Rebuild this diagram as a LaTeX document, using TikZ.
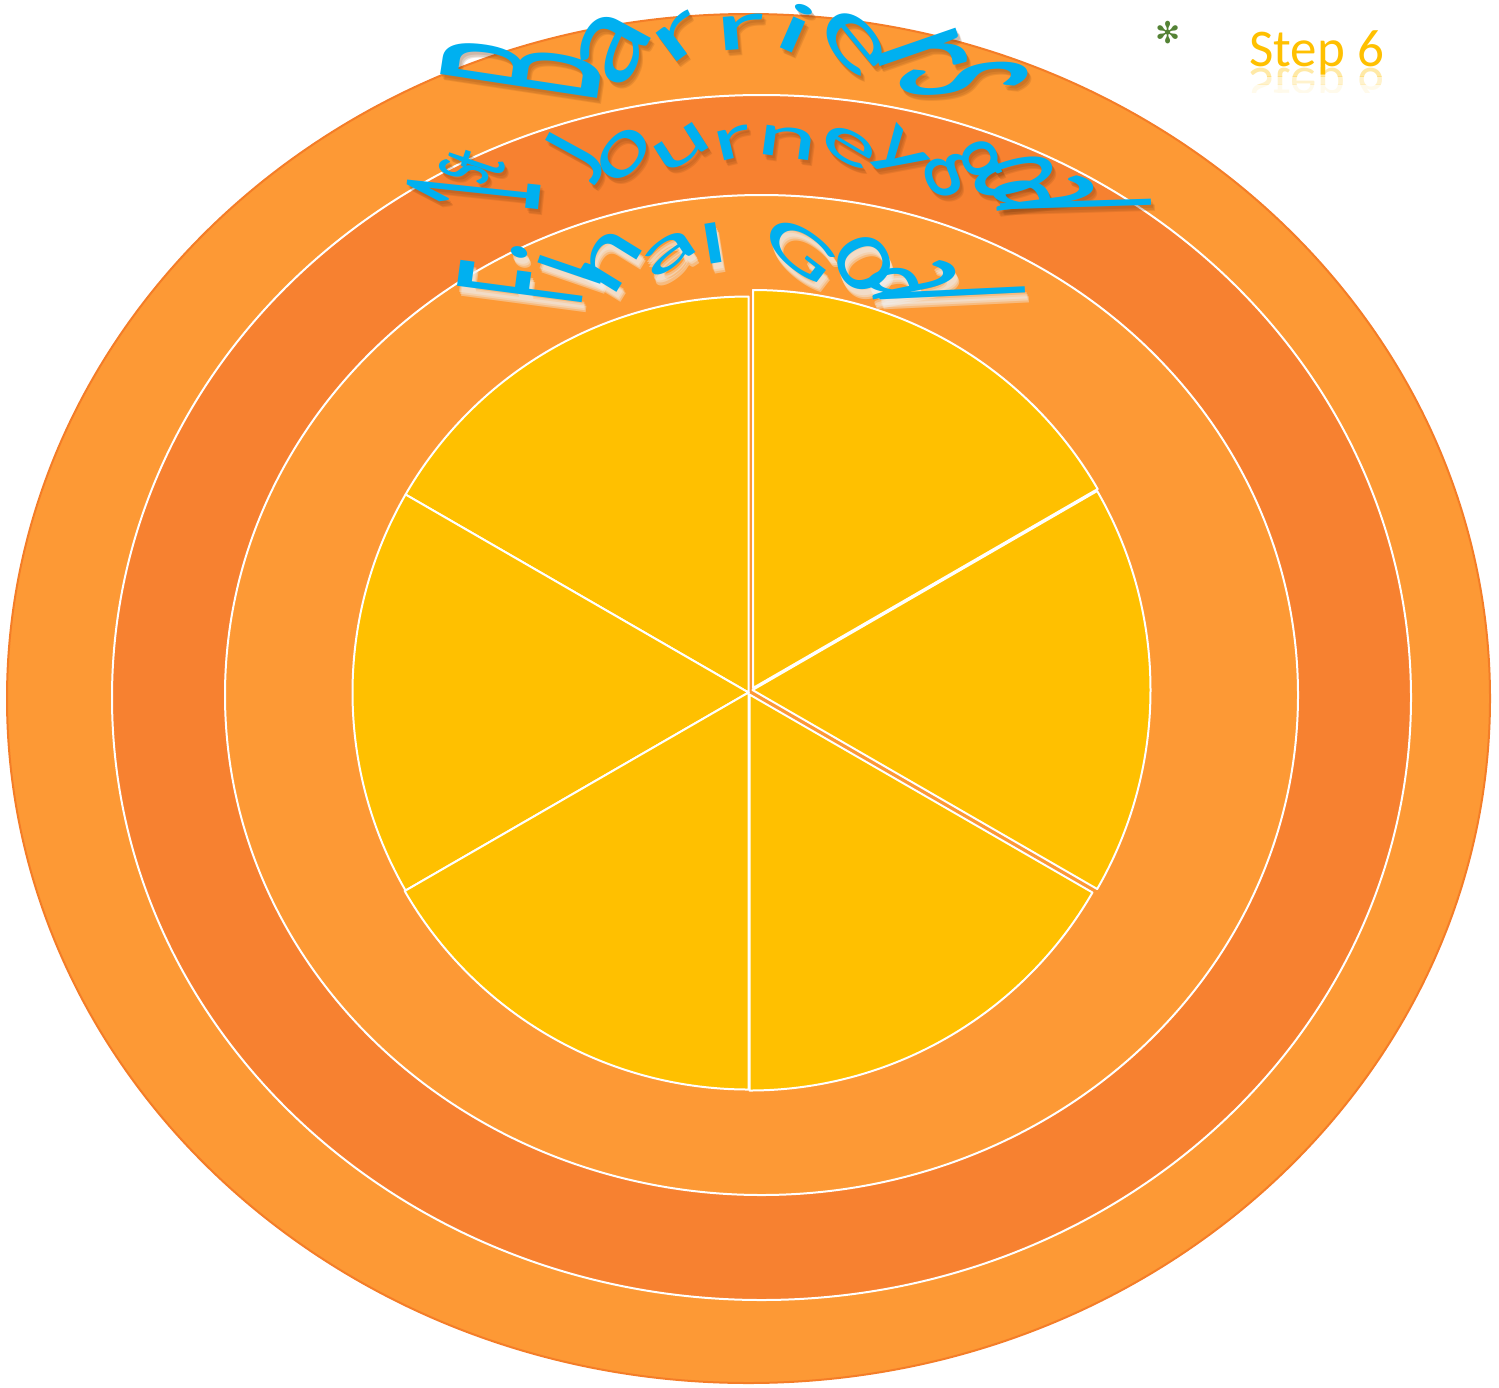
\documentclass[tikz,border=0pt]{standalone}
\usepackage{fontspec}
\setmainfont{Carlito}
\newfontfamily\arcf{Carlito}
\newfontfamily\djv{DejaVu Sans}
\definecolor{lightor}{RGB}{253,153,53}
\definecolor{darkor}{RGB}{247,129,48}
\definecolor{edgeor}{RGB}{244,125,40}
\definecolor{gold}{RGB}{255,192,0}
\definecolor{wacyan}{RGB}{0,176,240}
\definecolor{bulletgreen}{RGB}{84,130,53}
\definecolor{shbrown}{RGB}{120,60,15}
\definecolor{glow}{RGB}{240,240,240}

\def\ArchSetup#1#2#3#4#5#6#7#8#9{\def\Acx{#1}\def\Acy{#2}\def\Arxb{#3}\def\Aryb{#4}\def\Akx{#5}\def\Aky{#6}\def\Atha{#7}\def\Athb{#8}\def\Ap{#9}}
\def\Akr{1.8}
\def\Almin{85}
\def\Almax{150}
\newcommand\ArchMeasure[1]{%
  \xdef\ArchW{0}%
  \foreach \ch/\lw/\lsc/\lrs in #1{%
    \pgfmathsetmacro\Atmp{\ArchW+\lsc*\lw}%
    \xdef\ArchW{\Atmp}%
  }}
\newcommand\ArchPass[5]{%
  \xdef\ArchU{0}%
  \foreach \ch/\lw/\lsc/\lrs [count=\ci] in #2{%
    \pgfmathsetmacro\Aw{\lsc*\lw}%
    \pgfmathsetmacro\Auc{\ArchU+\Aw/2}%
    \pgfmathsetmacro\Ath{\Atha-(\Atha-\Athb)*\Auc/\ArchW}%
    \pgfmathsetmacro\Avm{\lrs+0.3*\lsc}%
    \pgfmathsetmacro\Arxm{(\Arxb+\Akx*\Avm)/100}%
    \pgfmathsetmacro\Arym{(\Aryb+\Aky*\Avm)/100}%
    \pgfmathsetmacro\Apx{\Acx+(\Arxb+\Akx*\lrs)*cos(\Ath)+#4}%
    \pgfmathsetmacro\Apy{\Acy-(\Aryb+\Aky*\lrs)*sin(\Ath)+#5}%
    \pgfmathsetmacro\Adth{(\Atha-\Athb)*pi/180/\ArchW}%
    \pgfmathsetmacro\ALt{min(\Almax,max(\Almin,100*\Adth*sqrt((\Arxm*sin(\Ath))^2+(\Arym*cos(\Ath))^2)))}%
    \pgfmathsetmacro\ALr{\Aky+(\Akx-\Aky)*pow(abs(cos(\Ath)),\Ap)}%
    \pgfmathsetmacro\Anrm{sqrt((\Akr*cos(\Ath))^2+(sin(\Ath))^2)}%
    \pgfmathsetmacro\Aux{\Akr*cos(\Ath)/\Anrm}%
    \pgfmathsetmacro\Auy{sin(\Ath)/\Anrm}%
    \pgfmathsetmacro\Ma{0.05*\lsc*\ALt*\Auy}%
    \pgfmathsetmacro\Mb{-0.05*\lsc*\ALt*\Aux}%
    \pgfmathsetmacro\Mc{0.05*\lsc*\ALr*\Aux}%
    \pgfmathsetmacro\Md{0.05*\lsc*\ALr*\Auy}%
    \node[inner sep=0pt, outer sep=0pt, anchor=base, transform shape,
          cm={\Ma,\Mb,\Mc,\Md,(\Apx,\Apy)}, #3] (#1-\ci) at (0,0)
          {\fontsize{10}{12}\selectfont\arcf \ch};
    \pgfmathsetmacro\Atmp{\ArchU+\Aw}%
    \xdef\ArchU{\Atmp}%
  }}

\tikzset{
  ringline/.style={draw=white, line width=1pt},
  slice/.style={fill=gold, draw=white, line width=1pt, line join=round},
  darkshadow/.style={text=shbrown, opacity=0.14},
  glowshadow/.style={text=glow, opacity=0.4},
  arctext/.style={text=wacyan}
}

\begin{document}
\begin{tikzpicture}[x=0.5pt, y=-0.5pt]
\useasboundingbox (0,0) rectangle (1499,1387);
% rings
\draw[fill=lightor, draw=edgeor, line width=1pt] (748.5,698.5) ellipse [x radius=741.5, y radius=684.5];
\draw[fill=darkor, ringline] (761.5,697.5) ellipse [x radius=649.5, y radius=602.5];
\draw[fill=lightor, ringline] (761.5,695) ellipse [x radius=536.5, y radius=500];
% pie slices
\path[slice] (748.5,692.5) -- ++(-90:396) arc[start angle=-90, end angle=-150, radius=396] -- cycle;
\path[slice] (748.5,692.5) -- ++(-150:396) arc[start angle=-150, end angle=-210, radius=396] -- cycle;
\path[slice] (748.5,692.5) -- ++(-210:397) arc[start angle=-210, end angle=-270, radius=397] -- cycle;
\path[slice] (749.5,694.5) -- ++(-270:396) arc[start angle=-270, end angle=-330, radius=396] -- cycle;
\path[slice] (752.5,690) -- ++(-330:398) arc[start angle=-330, end angle=-390, radius=398] -- cycle;
\path[slice] (753,688) -- ++(-30:398) arc[start angle=-30, end angle=-90, radius=398] -- cycle;

% Barriers
\ArchSetup{750}{93}{155}{44}{275}{70}{180}{0}{4}
\def\Almin{85}\def\Almax{150}
\def\WordA{B/.544/1/0,a/.479/1/0,r/.349/1/0,r/.349/1/0,i/.229/1/0,e/.498/1/0,r/.349/1/0,s/.391/1/0}
\ArchMeasure{\WordA}
\ArchPass{barS1}{\WordA}{darkshadow}{2}{3}
\ArchPass{barS2}{\WordA}{darkshadow}{3}{5}
\ArchPass{barS3}{\WordA}{darkshadow}{4}{6}
\ArchPass{bar}{\WordA}{arctext}{0}{0}

% 1st Journey goal
\ArchSetup{768}{210}{233}{53}{218}{62}{180}{0}{4}
\def\Almin{72}\def\Almax{115}
\def\WordB{1/.8/1/0,s/.391/0.62/0.35,t/.335/0.62/0.35,~/.226/1/0,J/.319/1/0,o/.527/1/0,u/.525/1/0,r/.349/1/0,n/.525/1/0,e/.498/1/0,y/.453/1/0,~/.226/1/0,g/.471/1/0,o/.527/1/0,a/.479/1/0,l/.229/1/0}
\ArchMeasure{\WordB}
\ArchPass{jouS1}{\WordB}{darkshadow}{2}{3}
\ArchPass{jouS2}{\WordB}{darkshadow}{3}{5}
\ArchPass{jouS3}{\WordB}{darkshadow}{4}{6}
\ArchPass{jou}{\WordB}{arctext}{0}{0}

% Final Goal
\ArchSetup{730}{300}{150}{37}{212}{58}{180}{0}{4}
\def\Almin{72}\def\Almax{125}
\def\WordC{F/.62/1/0,i/.229/1/0,n/.525/1/0,a/.479/1/0,l/.229/1/0,~/.226/1/0,G/.631/1/0,o/.527/1/0,a/.479/1/0,l/.229/1/0}
\ArchMeasure{\WordC}
\ArchPass{finS1}{\WordC}{glowshadow}{2}{6}
\ArchPass{finS2}{\WordC}{glowshadow}{3}{8}
\ArchPass{finS3}{\WordC}{glowshadow}{4}{10}
\ArchPass{fin}{\WordC}{arctext}{0}{0}

% bullet and Step 6
\node[text=bulletgreen, inner sep=0pt, font=\djv\fontsize{15}{18}\selectfont] (bullet) at (1168,33) {✻};
\node[text=gold, inner sep=0pt, anchor=base west, font=\fontsize{26.5}{30}\selectfont] (step) at (1249,66) {Step 6};
\begin{scope}
\clip (1240,67) rectangle (1400,76);
\node[text=gold, opacity=0.35, inner sep=0pt, anchor=base west, yscale=-1, font=\fontsize{26.5}{30}\selectfont] (stepr1) at (1249,68) {Step 6};
\end{scope}
\begin{scope}
\clip (1240,76) rectangle (1400,84);
\node[text=gold, opacity=0.2, inner sep=0pt, anchor=base west, yscale=-1, font=\fontsize{26.5}{30}\selectfont] (stepr2) at (1249,68) {Step 6};
\end{scope}
\begin{scope}
\clip (1240,84) rectangle (1400,92);
\node[text=gold, opacity=0.08, inner sep=0pt, anchor=base west, yscale=-1, font=\fontsize{26.5}{30}\selectfont] (stepr3) at (1249,68) {Step 6};
\end{scope}
\end{tikzpicture}
\end{document}
